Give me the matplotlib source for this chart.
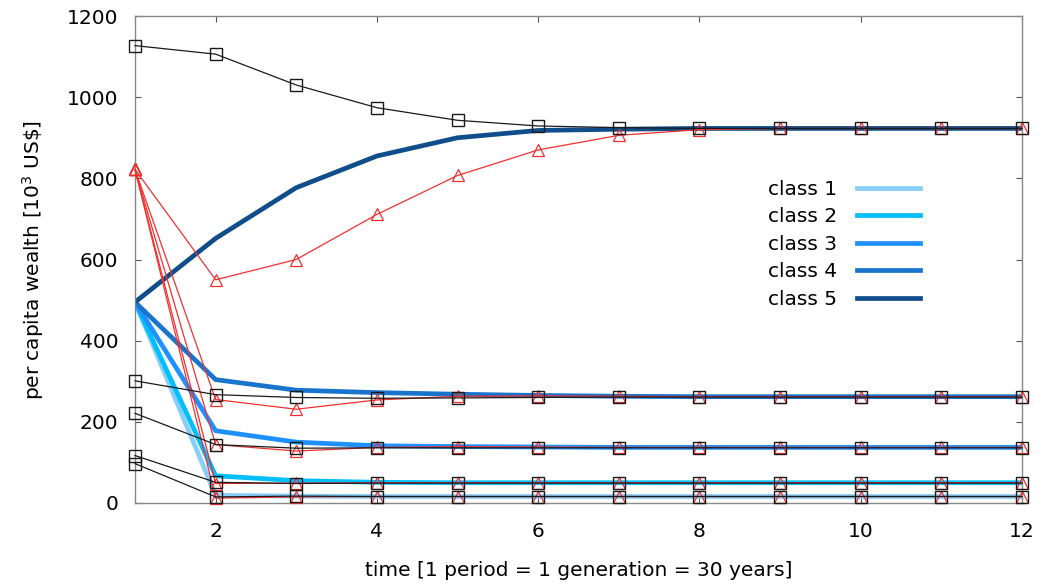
import numpy as np
import matplotlib
matplotlib.use("Agg")
import matplotlib.pyplot as plt

plt.rcParams['font.family'] = ['DejaVu Sans']

# time periods
t = np.arange(1, 13)

# model: thick blue lines, one per class
class1 = [495, 19, 17, 16, 16, 16, 16, 16, 16, 16, 16, 16]
class2 = [495, 67, 55, 51, 50, 50, 50, 50, 50, 50, 50, 50]
class3 = [495, 178, 150, 141, 139, 138, 137, 137, 137, 137, 137, 137]
class4 = [495, 304, 278, 272, 268, 265, 263, 262, 262, 262, 262, 262]
class5 = [495, 652, 777, 855, 900, 918, 921, 923, 923, 923, 923, 923]

# black squares (start high/low, converge)
sq1 = [97, 15, 17, 16, 16, 16, 16, 16, 16, 16, 16, 16]
sq2 = [117, 51, 48, 49, 49, 49, 49, 49, 49, 49, 49, 49]
sq3 = [221, 144, 135, 136, 136, 136, 136, 136, 136, 136, 136, 136]
sq4 = [301, 267, 260, 258, 259, 260, 261, 261, 261, 261, 261, 261]
sq5 = [1127, 1106, 1030, 974, 943, 929, 925, 923, 923, 923, 923, 923]

# red triangles (all start at the same value)
tr1 = [822, 12, 15, 16, 16, 16, 16, 16, 16, 16, 16, 16]
tr2 = [822, 48, 49, 50, 50, 50, 50, 50, 50, 50, 50, 50]
tr3 = [822, 144, 128, 137, 139, 138, 137, 137, 137, 137, 137, 137]
tr4 = [822, 255, 231, 254, 263, 264, 263, 262, 262, 262, 262, 262]
tr5 = [822, 550, 600, 711, 807, 870, 906, 920, 923, 923, 923, 923]

labels = ["class 1", "class 2", "class 3", "class 4", "class 5"]
colors = ["#87cefa", "#00bfff", "#1e90ff", "#1874cd", "#104e8b"]

fs = 14.5

fig = plt.figure(figsize=(10.43, 5.85), dpi=100)
ax = fig.add_axes([135 / 1043, 1 - 503 / 585, (1022 - 135) / 1043, (503 - 16) / 585])

for y, c, lab in zip([class1, class2, class3, class4, class5], colors, labels):
    ax.plot(t, y, color=c, lw=3.4, label=lab, zorder=2)

for y in [tr1, tr2, tr3, tr4, tr5]:
    ax.plot(t, y, color="#f03030", lw=0.9, marker="^", ms=8.5, mfc="none",
            mew=0.9, zorder=3, clip_on=False)

for y in [sq1, sq2, sq3, sq4, sq5]:
    ax.plot(t, y, color="#1a1a1a", lw=0.9, marker="s", ms=8, mfc="none",
            mew=1.0, zorder=4, clip_on=False)

ax.set_xlim(1, 12)
ax.set_ylim(0, 1200)
ax.set_xticks([2, 4, 6, 8, 10, 12])
ax.set_yticks(np.arange(0, 1201, 200))
ax.tick_params(direction="in", top=True, right=True, length=4.5, width=0.8,
               color="#555555", labelsize=fs)
ax.tick_params(axis="y", pad=12)
ax.tick_params(axis="x", pad=14)
for s in ax.spines.values():
    s.set_color("#888888")
    s.set_linewidth(1.0)

ax.set_xlabel("time [1 period = 1 generation = 30 years]", fontsize=fs, labelpad=14)
ax.set_ylabel("per capita wealth [10$^3$ US\\$]", fontsize=fs, labelpad=15)

ax.legend(loc="upper left", bbox_to_anchor=(768 / 1043, 1 - 180 / 585),
          bbox_transform=fig.transFigure, frameon=False, borderpad=0,
          borderaxespad=0, markerfirst=False, fontsize=fs, handlelength=3.1,
          handletextpad=1.0, labelspacing=0.42)

fig.savefig("out.png", dpi=100)
